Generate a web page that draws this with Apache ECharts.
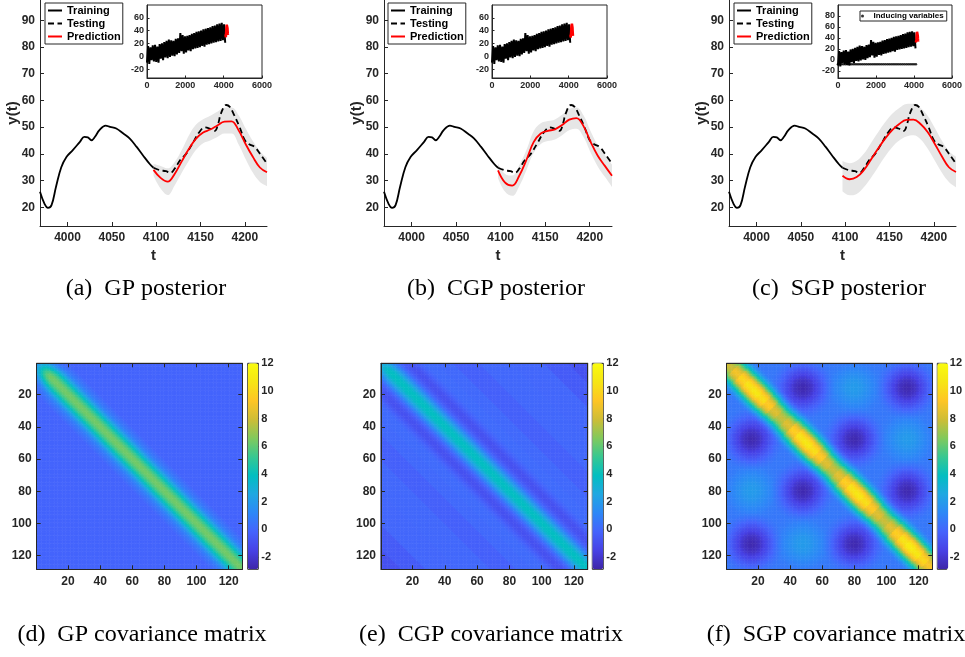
<!DOCTYPE html>
<html>
<head>
<meta charset="utf-8">
<script src="https://cdn.jsdelivr.net/npm/echarts@6/dist/echarts.min.js"></script>
<style>
html,body{margin:0;padding:0;background:#fff}
#chart{width:965px;height:657px}
</style>
</head>
<body>
<div id="chart"></div>
<script>
// ---- posterior panels (a)-(c) ----
var trainT = [3969, 3974, 3978, 3982, 3987, 3993, 3999, 4006, 4014, 4019, 4023, 4027, 4031, 4036, 4043, 4048, 4055, 4063, 4070, 4078, 4085, 4093, 4097];
var trainY = [25.8, 21.4, 19.8, 20.8, 27.6, 35.0, 38.9, 41.4, 44.5, 46.4, 46.2, 45.1, 46.4, 48.9, 50.6, 50.1, 49.5, 47.6, 45.8, 42.6, 39.5, 36.1, 34.8];
var testT = [4097, 4104, 4111, 4116, 4121, 4127, 4134, 4141, 4149, 4155, 4160, 4166, 4170, 4173, 4179, 4183, 4188, 4194, 4200, 4205, 4211, 4217, 4225];
var testY = [34.8, 33.9, 33.5, 32.9, 34.5, 37.6, 40.1, 43.9, 48.3, 49.9, 49.5, 48.6, 51.4, 55.1, 58.3, 57.6, 54.5, 50.1, 45.1, 43.6, 42.6, 40.1, 36.3];
var predT = [4097, 4105, 4113, 4121, 4129, 4137, 4145, 4153, 4161, 4169, 4177, 4185, 4193, 4201, 4209, 4217, 4225];

var gpPred = [34.0, 31.0, 29.6, 32.6, 37.3, 41.9, 45.7, 48.0, 49.1, 50.6, 52.1, 52.2, 48.8, 43.6, 38.9, 34.9, 33.1];
var gpHi   = [36.2, 35.5, 34.6, 37.0, 41.5, 47.0, 51.0, 53.0, 54.3, 55.8, 57.3, 57.4, 54.5, 49.5, 44.8, 41.0, 38.5];
var gpLo   = [31.8, 27.0, 24.6, 28.3, 33.0, 37.5, 41.5, 44.0, 45.0, 46.3, 47.6, 47.6, 43.5, 38.0, 33.0, 29.5, 28.0];

var cgpPred = [33.8, 29.2, 28.1, 31.9, 37.8, 44.4, 47.6, 48.6, 49.2, 50.8, 52.8, 53.4, 50.4, 44.5, 39.3, 35.5, 31.8];
var cgpHi   = [36.5, 32.5, 31.9, 35.8, 41.5, 48.5, 51.5, 52.3, 52.9, 54.6, 56.8, 57.4, 54.5, 48.5, 43.3, 39.6, 36.0];
var cgpLo   = [31.0, 25.8, 24.3, 28.0, 34.0, 40.3, 43.7, 44.8, 45.4, 47.0, 48.8, 49.4, 46.3, 40.5, 35.3, 31.4, 27.6];

var sgpPred = [31.8, 30.5, 31.3, 33.9, 37.8, 41.9, 45.7, 48.9, 51.2, 52.7, 52.8, 51.2, 48.2, 43.8, 39.1, 35.0, 33.2];
var sgpHi   = [37.3, 36.5, 37.4, 40.0, 44.0, 48.0, 51.8, 55.0, 57.2, 58.7, 58.8, 57.2, 54.3, 49.8, 45.0, 41.0, 39.0];
var sgpLo   = [26.0, 24.5, 25.0, 27.5, 31.0, 35.0, 39.0, 42.5, 45.0, 46.5, 47.0, 45.5, 42.0, 37.5, 33.0, 29.5, 27.5];

// inset: whole series (zoomed out)
var insetT = [0, 60, 120, 180, 240, 300, 360, 420, 480, 540, 600, 660, 720, 780, 840, 900, 960, 1020, 1080, 1140,
  1200, 1260, 1320, 1380, 1440, 1500, 1560, 1620, 1680, 1740, 1800, 1860, 1920, 1980, 2040, 2100, 2160, 2220, 2280, 2340,
  2400, 2460, 2520, 2580, 2640, 2700, 2760, 2820, 2880, 2940, 3000, 3060, 3120, 3180, 3240, 3300, 3360, 3420, 3480, 3540,
  3600, 3660, 3720, 3780, 3840, 3900, 3960, 4020, 4080];
var insetY = [-10, 16, -12, 14, -6, 17, -8, 18, -9, 15, -10, 19, -4, 20, -6, 22, -2, 24, -3, 26,
  -1, 25, 1, 24, 0, 27, 3, 28, 5, 36, 8, 33, 4, 31, 6, 32, 9, 33, 8, 35,
  11, 36, 12, 38, 13, 39, 14, 40, 16, 42, 15, 43, 18, 44, 19, 45, 20, 47, 21, 48,
  22, 50, 23, 51, 24, 52, 25, 50, 21];
var inducingT = [0, 100, 200, 300, 400, 500, 600, 700, 800, 900, 1000, 1100, 1200, 1300, 1400, 1500, 1600, 1700, 1800, 1900, 2000,
  2100, 2200, 2300, 2400, 2500, 2600, 2700, 2800, 2900, 3000, 3100, 3200, 3300, 3400, 3500, 3600, 3700, 3800, 3900, 4000, 4100];
var inducingLevel = -8;

var tTicks = [4000, 4050, 4100, 4150, 4200];
var yTicks = [20, 30, 40, 50, 60, 70, 80, 90];
var insetXTicks = [0, 2000, 4000, 6000];
var insetYTicksAB = [-20, 0, 20, 40, 60];
var insetYTicksC = [-20, 0, 20, 40, 60, 80];

// ---- covariance panels (d)-(f) ----
var N = 128;
var gpBg = -0.15;
var gpLag = [6.3, 6.25, 6.1, 5.85, 5.5, 5.1, 4.6, 4.05, 3.45, 2.85, 2.3, 1.8, 1.35, 1.0, 0.75, 0.55, 0.4, 0.25, 0.1, 0.0, -0.15];
var gpEdge = [0.55, 0.62, 0.7, 0.78, 0.85, 0.91, 0.95, 0.98];

var cgpBg = 0.0;
var cgpLag = [3.9, 3.85, 3.7, 3.45, 3.1, 2.7, 2.25, 1.8, 1.35, 0.9, 0.5, 0.15, -0.15, -0.4, -0.6, -0.75, -0.85, -0.9, -0.9, -0.85, -0.75, -0.6, -0.45, -0.3, -0.15, -0.05, 0.05];
var cgpTailAt = [27, 35, 45, 61, 81, 101, 116];
var cgpTailVal = [0.1, 0.05, -0.3, 0.0, -0.05, -0.5, -0.9];
var cgpEdge = [0.78, 0.85, 0.9, 0.95, 0.98];

var sgpBg = 0.6;
var sgpCenters = [16, 48, 80, 113];
var sgpSpot = [-2.7, 2.0, -2.7];     // off-diagonal blobs, by block offset 1,2,3
var sgpFall = [1, 0.99, 0.97, 0.94, 0.9, 0.85, 0.79, 0.72, 0.65, 0.58, 0.5, 0.43, 0.36, 0.29, 0.23, 0.17, 0.12, 0.08, 0.05, 0.02, 0];
var sgpDiag = [8.0, 9.0, 10.0, 10.6, 10.8, 10.4, 9.5, 8.4, 7.8, 8.4, 9.7, 10.6, 10.8, 10.4, 9.5, 8.4,
  7.9, 8.5, 9.7, 10.6, 10.8, 10.4, 9.5, 8.4, 7.9, 8.5, 9.7, 10.6, 11.1, 10.8, 10.1, 9.2];   // along diagonal, every 4
var sgpBand = [1, 0.99, 0.97, 0.94, 0.9, 0.85, 0.78, 0.7, 0.61, 0.52, 0.43, 0.35, 0.27, 0.2, 0.14, 0.09, 0.05, 0.02, 0.01, 0];

var matTicks = [20, 40, 60, 80, 100, 120];
var barTicks = [-2, 0, 2, 4, 6, 8, 10, 12];
var barMin = -2.9, barMax = 12;
var parula = ['#3e26a8', '#4741e5', '#4563fc', '#2d87f7', '#20a7e2', '#02bec1', '#37c892', '#81c95c', '#cebd36', '#fec524', '#f6e514', '#f9fb0e'];

var FONT = '"Liberation Sans", Arial, Helvetica, sans-serif';
var SERIF = '"Liberation Serif", "Times New Roman", serif';
var AX = '#262626';

function pairs(xs, ys) {
	var out = [];
	for (var i = 0; i < xs.length; i++) out.push([xs[i], ys[i]]);
	return out;
}
// y first, so that stacking acts on the value (y) dimension
function yxPairs(xs, ys) {
	var out = [];
	for (var i = 0; i < xs.length; i++) out.push([ys[i], xs[i]]);
	return out;
}
function gap(hi, lo) {
	var out = [];
	for (var i = 0; i < hi.length; i++) out.push(hi[i] - lo[i]);
	return out;
}
function pick(arr, i) {
	return i < arr.length ? arr[i] : arr[arr.length - 1];
}
function edge(arr, i) {
	return i < arr.length ? arr[i] : 1;
}
function extend(a, b) {
	for (var k in b) a[k] = b[k];
	return a;
}

function gpMatrix() {
	var d = [];
	for (var r = 0; r < N; r++) for (var c = 0; c < N; c++) {
		var v = gpBg + (pick(gpLag, Math.abs(r - c)) - gpBg) * edge(gpEdge, r) * edge(gpEdge, c);
		d.push([c, r, v]);
	}
	return d;
}
function cgpMatrix() {
	var d = [];
	for (var r = 0; r < N; r++) for (var c = 0; c < N; c++) {
		var lag = Math.abs(r - c), v;
		if (lag < cgpLag.length) {
			v = cgpBg + (cgpLag[lag] - cgpBg) * edge(cgpEdge, r) * edge(cgpEdge, c);
		} else {
			var k = 0;
			for (var j = 0; j < cgpTailAt.length; j++) if (lag >= cgpTailAt[j]) k = j;
			v = cgpTailVal[k];
		}
		d.push([c, r, v]);
	}
	return d;
}
function sgpMatrix() {
	var d = [];
	for (var r = 0; r < N; r++) for (var c = 0; c < N; c++) {
		var lag = Math.abs(r - c);
		var mid = Math.floor((r + c) / 2);
		var v = sgpBg + (sgpDiag[Math.floor(mid / 4)] - sgpBg) * pick(sgpBand, lag);
		for (var i = 0; i < 4; i++) for (var j = 0; j < 4; j++) {
			if (i == j) continue;
			var dist = Math.round(Math.sqrt(Math.pow(c + 1 - sgpCenters[j], 2) + Math.pow(r + 1 - sgpCenters[i], 2)));
			if (dist < sgpFall.length) v += (sgpSpot[Math.abs(i - j) - 1] - sgpBg) * sgpFall[dist];
		}
		d.push([c, r, v]);
	}
	return d;
}

var grids = [], xAxes = [], yAxes = [], series = [], legends = [], visualMaps = [], titles = [];

function labelStyle(size) {
	return {fontSize: size, fontWeight: 'bold', color: AX, fontFamily: FONT};
}
function addGrid(g, xa, ya) {
	grids.push(g);
	xa.gridIndex = grids.length - 1;
	ya.gridIndex = grids.length - 1;
	xAxes.push(xa);
	yAxes.push(ya);
	return {x: xAxes.length - 1, y: yAxes.length - 1};
}
function tickAxis(min, max, ticks, size, margin, tickLen) {
	return {
		type: 'value', min: min, max: max, z: 3,
		axisLine: {show: true, onZero: false, lineStyle: {color: AX, width: 1}},
		axisTick: {show: true, inside: true, length: tickLen, customValues: ticks, lineStyle: {color: AX}},
		axisLabel: extend({customValues: ticks, margin: margin, formatter: function (v) { return String(v); }}, labelStyle(size)),
		splitLine: {show: false}
	};
}

function posterior(k, left, width, legendLeft, insetLeft, insetWidth, pred, lo, hi, withInducing) {
	var xa = tickAxis(3969, 4225, tTicks, 12, 6, 4);
	xa.name = 't'; xa.nameLocation = 'middle'; xa.nameGap = 22; xa.nameMoveOverlap = false;
	xa.nameTextStyle = labelStyle(15);
	var ya = tickAxis(13, 97.6, yTicks, 12, 5, 4);
	ya.name = 'y(t)'; ya.nameLocation = 'middle'; ya.nameGap = 20; ya.nameRotate = 90; ya.nameMoveOverlap = false;
	ya.nameTextStyle = labelStyle(15);
	var ax = addGrid({left: left, top: 0, width: width, height: 226}, xa, ya);

	// confidence band: lower bound + stacked width
	series.push({type: 'line', xAxisIndex: ax.x, yAxisIndex: ax.y, data: yxPairs(predT, lo), encode: {x: 1, y: 0},
		stack: 'band' + k, symbol: 'none', smooth: 0.4, lineStyle: {opacity: 0}, silent: true, z: 1});
	series.push({type: 'line', xAxisIndex: ax.x, yAxisIndex: ax.y, data: yxPairs(predT, gap(hi, lo)), encode: {x: 1, y: 0},
		stack: 'band' + k, symbol: 'none', smooth: 0.4, lineStyle: {opacity: 0},
		areaStyle: {color: '#e6e6e6', opacity: 1}, silent: true, z: 1});
	series.push({name: 'Training', type: 'line', xAxisIndex: ax.x, yAxisIndex: ax.y, data: pairs(trainT, trainY),
		symbol: 'none', smooth: 0.4, lineStyle: {color: '#000', width: 1.8}, itemStyle: {color: '#000'}});
	series.push({name: 'Testing', type: 'line', xAxisIndex: ax.x, yAxisIndex: ax.y, data: pairs(testT, testY),
		symbol: 'none', smooth: 0.4, lineStyle: {color: '#000', width: 1.8, type: [6, 3.5]}, itemStyle: {color: '#000'}});
	series.push({name: 'Prediction', type: 'line', xAxisIndex: ax.x, yAxisIndex: ax.y, data: pairs(predT, pred),
		symbol: 'none', smooth: 0.4, lineStyle: {color: '#ff0000', width: 1.8}, itemStyle: {color: '#ff0000'}});

	legends.push({
		data: ['Training', 'Testing', 'Prediction'], orient: 'vertical', left: legendLeft, top: 3,
		itemWidth: 14, itemHeight: 12, itemGap: 2, padding: [2, 2, 2, 2], selectedMode: false,
		itemStyle: {opacity: 0},
		backgroundColor: '#fff', borderColor: AX, borderWidth: 1, borderRadius: 0,
		textStyle: {fontSize: 11, fontWeight: 'bold', color: '#000', fontFamily: FONT}
	});

	// inset
	var ix = tickAxis(0, 6000, insetXTicks, 9, 3, 2.5);
	var iy = withInducing ? tickAxis(-33, 100, insetYTicksC, 9, 3, 2.5) : tickAxis(-34, 80, insetYTicksAB, 9, 3, 2.5);
	var ia = addGrid({left: insetLeft, top: 5, width: insetWidth, height: 73, show: true,
		backgroundColor: '#fff', borderColor: AX, borderWidth: 1}, ix, iy);
	series.push({type: 'line', xAxisIndex: ia.x, yAxisIndex: ia.y, data: pairs(insetT, insetY),
		symbol: 'none', lineStyle: {color: '#000', width: 2}, silent: true, z: 3});
	series.push({type: 'line', xAxisIndex: ia.x, yAxisIndex: ia.y, data: pairs(predT, pred),
		symbol: 'none', lineStyle: {color: '#ff0000', width: 2.5}, silent: true, z: 4});
	if (withInducing) {
		var lvl = [];
		for (var i = 0; i < inducingT.length; i++) lvl.push(inducingLevel);
		series.push({name: 'Inducing variables', type: 'scatter', xAxisIndex: ia.x, yAxisIndex: ia.y,
			data: pairs(inducingT, lvl), symbol: 'circle', symbolSize: 2.6, itemStyle: {color: '#000'}, z: 4});
		legends.push({
			data: ['Inducing variables'], left: 860, top: 11, itemWidth: 12, itemHeight: 3, icon: 'circle',
			padding: [1, 3, 1, 1], selectedMode: false, backgroundColor: '#fff', borderColor: AX, borderWidth: 1,
			textStyle: {fontSize: 8, fontWeight: 'bold', color: '#000', fontFamily: FONT}
		});
	}
}

function covariance(left, width, barLeft, barWidth, data) {
	var top = 363.3, h = 206;
	var cats = [];
	for (var i = 1; i <= N; i++) cats.push(String(i));
	var hx = {type: 'category', data: cats, show: false};
	var hy = {type: 'category', data: cats, inverse: true, show: false};
	var ha = addGrid({left: left, top: top, width: width, height: h}, hx, hy);
	series.push({type: 'heatmap', xAxisIndex: ha.x, yAxisIndex: ha.y, data: data,
		progressive: 0, emphasis: {disabled: true}, silent: true});
	visualMaps.push({
		type: 'continuous', min: barMin, max: barMax, dimension: 2, seriesIndex: series.length - 1,
		inRange: {color: parula}, calculable: false, show: true, left: barLeft, top: top,
		itemWidth: barWidth, itemHeight: h, padding: 0, text: null, textGap: 0
	});

	// ticks + labels over the image
	var ox = tickAxis(0.5, 128.5, matTicks, 12, 6, 4);
	var oy = tickAxis(0.5, 128.5, matTicks, 12, 5, 4);
	oy.inverse = true;
	var oa = addGrid({left: left, top: top, width: width, height: h, show: true, borderColor: AX, borderWidth: 1, backgroundColor: 'transparent'}, ox, oy);
	var rx = tickAxis(0.5, 128.5, matTicks, 12, 6, 4);
	rx.position = 'top'; rx.gridIndex = grids.length - 1; rx.axisLabel.show = false;
	var ry = tickAxis(0.5, 128.5, matTicks, 12, 5, 4);
	ry.position = 'right'; ry.inverse = true; ry.gridIndex = grids.length - 1; ry.axisLabel.show = false;
	xAxes.push(rx); yAxes.push(ry);
	series.push({type: 'line', xAxisIndex: oa.x, yAxisIndex: oa.y, data: [], silent: true});

	// colour bar frame + labels
	var bx = {type: 'value', min: 0, max: 1, show: false};
	var by = tickAxis(barMin, barMax, barTicks, 11, 3, 3);
	by.position = 'right'; by.axisLine.show = false;
	var ba = addGrid({left: barLeft, top: top, width: barWidth, height: h, show: true, borderColor: AX, borderWidth: 1, backgroundColor: 'transparent'}, bx, by);
	series.push({type: 'line', xAxisIndex: ba.x, yAxisIndex: ba.y, data: [], silent: true});
}

posterior(0, 40, 227, 45, 147, 115, gpPred, gpLo, gpHi, false);
posterior(1, 384, 228, 388, 492, 115, cgpPred, cgpLo, cgpHi, false);
posterior(2, 729, 227, 734, 838, 114, sgpPred, sgpLo, sgpHi, true);

covariance(36.7, 205.6, 247.7, 10.6, gpMatrix());
covariance(381, 206.7, 592.3, 11, cgpMatrix());
covariance(726.7, 205.6, 937.3, 11, sgpMatrix());

var captions = [
	['(a)  GP posterior', 146, 277], ['(b)  CGP posterior', 496, 277], ['(c)  SGP posterior', 839, 277],
	['(d)  GP covariance matrix', 142, 623], ['(e)  CGP covariance matrix', 491, 623], ['(f)  SGP covariance matrix', 836, 623]
];
for (var i = 0; i < captions.length; i++) {
	titles.push({text: captions[i][0], left: captions[i][1], top: captions[i][2], textAlign: 'center', padding: 0,
		textStyle: {fontFamily: SERIF, fontSize: 24, fontWeight: 'normal', color: '#000'}});
}

var chart = echarts.init(document.getElementById('chart'), null, {renderer: 'canvas'});
chart.setOption({
	animation: false,
	backgroundColor: '#fff',
	title: titles,
	grid: grids,
	xAxis: xAxes,
	yAxis: yAxes,
	legend: legends,
	visualMap: visualMaps,
	series: series
});
</script>
</body>
</html>
